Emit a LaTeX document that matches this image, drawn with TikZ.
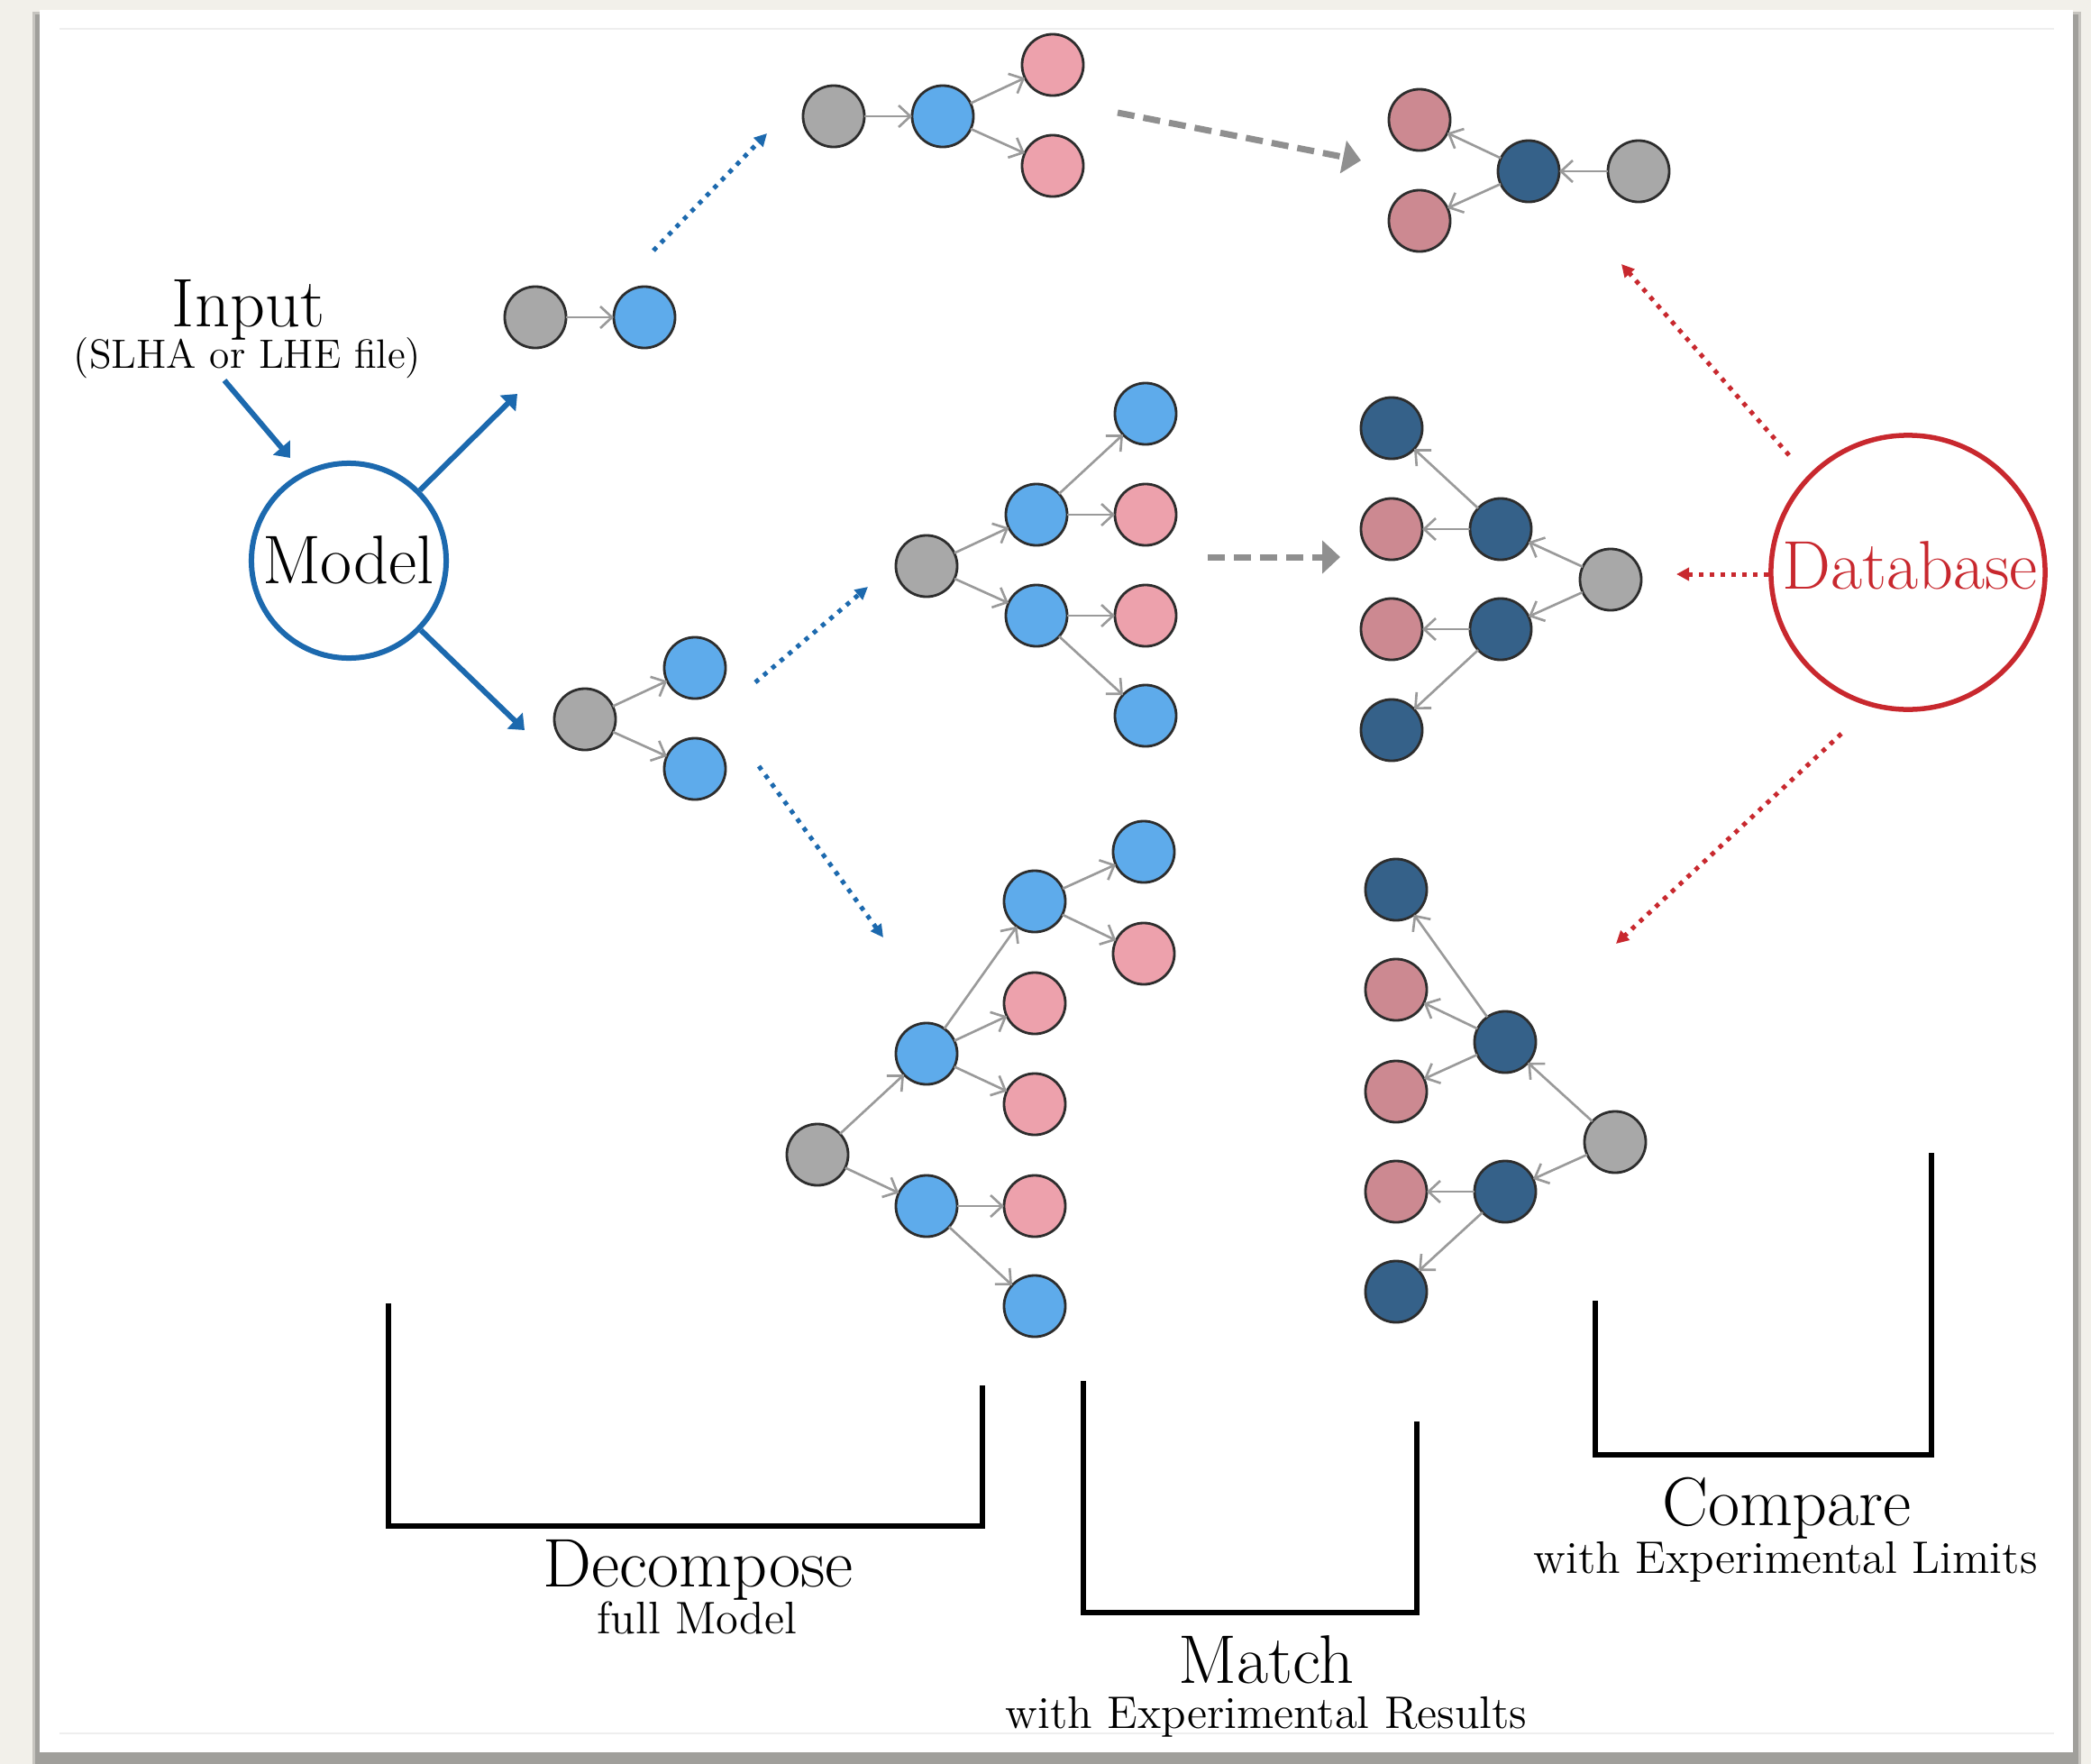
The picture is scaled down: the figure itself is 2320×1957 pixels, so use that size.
\documentclass[tikz,border=0pt]{standalone}
\usetikzlibrary{arrows.meta}

\definecolor{paper}{HTML}{F2F0EA}
\definecolor{shadowlight}{HTML}{C6C4BF}
\definecolor{shadowdark}{HTML}{A09F9B}
\definecolor{framefaint}{HTML}{EEEEEE}
\definecolor{modelblue}{HTML}{1C69AE}
\definecolor{dbred}{HTML}{C8282E}
\definecolor{flowgray}{HTML}{8F8F8F}
\definecolor{linkgray}{HTML}{9A9A9A}
\definecolor{rim}{HTML}{2D2D2D}
\definecolor{cgray}{HTML}{A8A8A8}
\definecolor{clblue}{HTML}{5EABEB}
\definecolor{cpink}{HTML}{EDA1AC}
\definecolor{cdpink}{HTML}{CC8991}
\definecolor{cdblue}{HTML}{356189}

\tikzset{
  ptc/.style={circle, draw=rim, line width=0.8pt, minimum size=0.68cm, inner sep=0pt, outer sep=0pt},
  pg/.style={ptc, fill=cgray},
  pl/.style={ptc, fill=clblue},
  pp/.style={ptc, fill=cpink},
  pm/.style={ptc, fill=cdpink},
  pd/.style={ptc, fill=cdblue},
  link/.style={draw=linkgray, line width=0.75pt, -{Straight Barb[length=0.13cm, width=0.24cm]}},
  bigtxt/.style={anchor=base, inner sep=0pt, font=\fontsize{21.7}{26}\selectfont},
  subtxt/.style={anchor=base, inner sep=0pt, font=\fontsize{14.39}{17}\selectfont},
  bluearrow/.style={draw=modelblue, line width=0.06cm, -{Triangle[length=0.15cm, width=0.24cm]}},
  bluedots/.style={draw=modelblue, line width=0.05cm, dotted, -{Triangle[length=0.14cm, width=0.14cm]}},
  reddots/.style={draw=dbred, line width=0.05cm, dotted, -{Triangle[length=0.14cm, width=0.14cm]}},
  grayflow/.style={draw=flowgray, line width=0.07cm, dash pattern=on 0.19cm off 0.1cm, -{Triangle[length=0.2cm, width=0.36cm]}},
  bracket/.style={draw=black, line width=0.065cm, line join=miter},
}

\begin{document}
\begin{tikzpicture}[x=0.01cm, y=-0.01cm]
\useasboundingbox (0,0) rectangle (2320,1957);

% paper, shadow and card
\fill[paper] (0,0) rectangle (2320,1957);
\fill[shadowlight] (36,13) rectangle (2309,1957);
\fill[shadowdark] (39,16) rectangle (2306,1957);
\fill[white] (44,11) rectangle (2300,1944);
\draw[framefaint, line width=0.3pt] (66,32) -- (2279,32);
\draw[framefaint, line width=0.3pt] (66,1923) -- (2279,1923);

% input and model
\node[bigtxt] (input) at (275.5,362) {Input};
\node[anchor=base, inner sep=0pt, font=\fontsize{12.9}{15}\selectfont] (inputsub) at (274.5,408) {(SLHA or LHE file)};
\node[circle, draw=modelblue, line width=0.06cm, minimum size=2.16cm, inner sep=0pt] (model) at (387,622) {};
\node[bigtxt] (modeltxt) at (386.5,647) {Model};

\coordinate (inA) at (249,422);
\coordinate (inB) at (322,508);
\coordinate (mA) at (574,437);
\coordinate (mB) at (582,810);
\draw[bluearrow] (inA) -- (inB);
\draw[bluearrow] (model) -- (mA);
\draw[bluearrow] (model) -- (mB);

% database
\node[circle, draw=dbred, line width=0.055cm, minimum size=3.04cm, inner sep=0pt] (db) at (2117,635) {};
\node[bigtxt, text=dbred] (dbtxt) at (2119,653) {Database};

% one-branch tree
\node[pg] (a0) at (594,352) {};
\node[pl] (a1) at (715,352) {};
\draw[link] (a0) -- (a1);

% two-branch tree
\node[pg] (b0) at (649,798) {};
\node[pl] (b1) at (771,741) {};
\node[pl] (b2) at (771,853) {};
\draw[link] (b0) -- (b1);
\draw[link] (b0) -- (b2);

% top decay tree
\node[pg] (c0) at (925,129) {};
\node[pl] (c1) at (1046,129) {};
\node[pp] (c2) at (1168,72) {};
\node[pp] (c3) at (1168,184) {};
\draw[link] (c0) -- (c1);
\draw[link] (c1) -- (c2);
\draw[link] (c1) -- (c3);

% top matched tree
\node[pg] (d0) at (1818,190) {};
\node[pd] (d1) at (1696,190) {};
\node[pm] (d2) at (1575,133) {};
\node[pm] (d3) at (1575,245) {};
\draw[link] (d0) -- (d1);
\draw[link] (d1) -- (d2);
\draw[link] (d1) -- (d3);

% middle decay tree
\node[pg] (e0) at (1028,628) {};
\node[pl] (e1) at (1150,571) {};
\node[pl] (e2) at (1150,683) {};
\node[pl] (e3) at (1271,459) {};
\node[pp] (e4) at (1271,571) {};
\node[pp] (e5) at (1271,683) {};
\node[pl] (e6) at (1271,794) {};
\draw[link] (e0) -- (e1);
\draw[link] (e0) -- (e2);
\draw[link] (e1) -- (e3);
\draw[link] (e1) -- (e4);
\draw[link] (e2) -- (e5);
\draw[link] (e2) -- (e6);

% middle matched tree
\node[pg] (f0) at (1787,643) {};
\node[pd] (f1) at (1665,587) {};
\node[pd] (f2) at (1665,698) {};
\node[pd] (f3) at (1544,475) {};
\node[pm] (f4) at (1544,587) {};
\node[pm] (f5) at (1544,698) {};
\node[pd] (f6) at (1544,810) {};
\draw[link] (f0) -- (f1);
\draw[link] (f0) -- (f2);
\draw[link] (f1) -- (f3);
\draw[link] (f1) -- (f4);
\draw[link] (f2) -- (f5);
\draw[link] (f2) -- (f6);

% bottom decay tree
\node[pg] (g0) at (907,1281) {};
\node[pl] (g1) at (1028,1169) {};
\node[pl] (g2) at (1028,1338) {};
\node[pl] (g3) at (1148,1000) {};
\node[pp] (g4) at (1148,1113) {};
\node[pp] (g5) at (1148,1225) {};
\node[pp] (g6) at (1148,1338) {};
\node[pl] (g7) at (1148,1449) {};
\node[pl] (g8) at (1269,945) {};
\node[pp] (g9) at (1269,1058) {};
\draw[link] (g0) -- (g1);
\draw[link] (g0) -- (g2);
\draw[link] (g1) -- (g3);
\draw[link] (g1) -- (g4);
\draw[link] (g1) -- (g5);
\draw[link] (g2) -- (g6);
\draw[link] (g2) -- (g7);
\draw[link] (g3) -- (g8);
\draw[link] (g3) -- (g9);

% bottom matched tree
\node[pg] (h0) at (1792,1267) {};
\node[pd] (h1) at (1670,1156) {};
\node[pd] (h2) at (1670,1322) {};
\node[pd] (h3) at (1549,987) {};
\node[pm] (h4) at (1549,1098) {};
\node[pm] (h5) at (1549,1211) {};
\node[pm] (h6) at (1549,1322) {};
\node[pd] (h7) at (1549,1433) {};
\draw[link] (h0) -- (h1);
\draw[link] (h0) -- (h2);
\draw[link] (h1) -- (h3);
\draw[link] (h1) -- (h4);
\draw[link] (h1) -- (h5);
\draw[link] (h2) -- (h6);
\draw[link] (h2) -- (h7);

% decomposition steps (blue dotted)
\coordinate (bd1s) at (725,278);  \coordinate (bd1e) at (851,148);
\coordinate (bd2s) at (838,757);  \coordinate (bd2e) at (963,651);
\coordinate (bd3s) at (842,850);  \coordinate (bd3e) at (980,1040);
\draw[bluedots] (bd1s) -- (bd1e);
\draw[bluedots] (bd2s) -- (bd2e);
\draw[bluedots] (bd3s) -- (bd3e);

% database lookups (red dotted)
\coordinate (rd1s) at (1985,505);  \coordinate (rd1e) at (1799,293);
\coordinate (rd2s) at (1962,637);  \coordinate (rd2e) at (1860,637);
\coordinate (rd3s) at (2043,814);  \coordinate (rd3e) at (1793,1047);
\draw[reddots] (rd1s) -- (rd1e);
\draw[reddots] (rd2s) -- (rd2e);
\draw[reddots] (rd3s) -- (rd3e);

% matching steps (gray dashed)
\coordinate (gf1s) at (1240,125);  \coordinate (gf1e) at (1510,178);
\coordinate (gf2s) at (1340,618);  \coordinate (gf2e) at (1487,618);
\draw[grayflow] (gf1s) -- (gf1e);
\draw[grayflow] (gf2s) -- (gf2e);

% brackets
\draw[bracket] (431,1446) -- (431,1693) -- (1090,1693) -- (1090,1537);
\draw[bracket] (1202,1532) -- (1202,1789) -- (1572,1789) -- (1572,1577);
\draw[bracket] (1770,1443) -- (1770,1614) -- (2143,1614) -- (2143,1279);

% bracket labels
\node[bigtxt] (decomp) at (774.5,1760) {Decompose};
\node[subtxt] (decompsub) at (773.5,1812) {full Model};
\node[bigtxt] (match) at (1405,1867) {Match};
\node[subtxt] (matchsub) at (1405,1917) {with Experimental Results};
\node[bigtxt] (compare) at (1982.5,1692) {Compare};
\node[subtxt] (comparesub) at (1981,1745) {with Experimental Limits};
\end{tikzpicture}
\end{document}
